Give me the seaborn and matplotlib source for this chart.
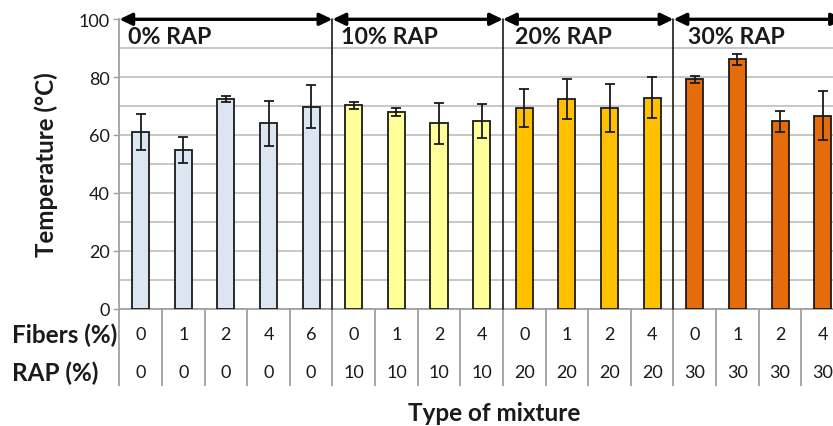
import numpy as np
import pandas as pd
import matplotlib
matplotlib.use("Agg")
import matplotlib.pyplot as plt
from matplotlib.patches import ArrowStyle
from matplotlib.transforms import blended_transform_factory
import seaborn as sns

# Mixture composition
fibers = [0, 1, 2, 4, 6, 0, 1, 2, 4, 0, 1, 2, 4, 0, 1, 2, 4]
rap = [0, 0, 0, 0, 0, 10, 10, 10, 10, 20, 20, 20, 20, 30, 30, 30, 30]

# Measured temperature (°C) and standard deviation
temperature = [61.0, 54.8, 72.5, 64.0, 69.8, 70.2, 67.9, 64.0, 64.8,
               69.4, 72.5, 69.4, 72.8, 79.2, 86.1, 64.7, 66.7]
std_dev = [6.2, 4.6, 1.0, 7.7, 7.5, 1.1, 1.5, 7.0, 5.8,
           6.6, 7.0, 8.3, 7.1, 1.2, 1.8, 3.6, 8.4]

group_labels = ["0% RAP", "10% RAP", "20% RAP", "30% RAP"]
group_colors = ["#DCE6F2", "#FFFF99", "#FFC000", "#E46C0A"]
y_ticks = [0, 20, 40, 60, 80, 100]

df = pd.DataFrame({
    "mix": [f"F{f}-R{r}" for f, r in zip(fibers, rap)],
    "fibers": fibers,
    "rap": rap,
    "temperature": temperature,
    "std": std_dev,
})
df["group"] = df["rap"].map(lambda r: f"{r}% RAP")

sns.set_theme(style="white")
plt.rcParams["font.family"] = ["Lato", "DejaVu Sans"]

fig = plt.figure(figsize=(8.33, 4.27), dpi=100)
cat_w = 42.63 / 833
ax = fig.add_axes([119.3 / 833, 1 - 309.5 / 427, cat_w * 17, (309.5 - 20.3) / 427])

sns.barplot(data=df, x="mix", y="temperature", hue="group",
            order=df["mix"].tolist(), hue_order=group_labels,
            palette=dict(zip(group_labels, group_colors)), saturation=1,
            dodge=False, width=0.4, edgecolor="#1a1a1a", linewidth=1.3,
            legend=False, ax=ax, zorder=3)

xpos = np.arange(len(df))
ax.errorbar(xpos, df["temperature"], yerr=df["std"], fmt="none",
            ecolor="#1a1a1a", elinewidth=1.3, capsize=3.3, capthick=1.3, zorder=4)

# Axes, ticks and grid
ax.set_ylim(0, 100)
ax.set_yticks(y_ticks)
ax.set_yticklabels([str(v) for v in y_ticks], fontsize=13, color="#1a1a1a")
ax.set_yticks(np.arange(0, 101, 10), minor=True)
ax.grid(which="both", axis="y", color="#BEBEBE", lw=1.2, zorder=0)
ax.tick_params(axis="y", which="major", left=True, length=4, width=1,
               color="#A0A0A0", pad=3)
ax.tick_params(axis="y", which="minor", left=False)

# Category boundaries extended downward to form the table
ax.set_xticks(np.arange(-0.5, 17, 1))
ax.set_xticklabels([])
ax.tick_params(axis="x", bottom=True, length=55.5, width=1.3, color="#A0A0A0")
ax.set_xlim(-0.5, 16.5)
ax.set_xlabel("")
ax.set_ylabel("Temperature (°C)", fontsize=17.4, fontweight="bold", color="#1a1a1a")
ax.yaxis.set_label_coords(-0.0845, 0.5)

for side in ["top", "right"]:
    ax.spines[side].set_visible(False)
for side in ["left", "bottom"]:
    ax.spines[side].set_color("#A0A0A0")
    ax.spines[side].set_linewidth(1.3)

# Group separators, arrows and labels
bounds = [-0.5, 4.5, 8.5, 12.5, 16.5]
for b in bounds[1:-1]:
    ax.plot([b, b], [0, 100], color="#1a1a1a", lw=1.2, zorder=5, clip_on=False)

astyle = ArrowStyle("<|-|>", head_length=0.75, head_width=0.36)
for i, lab in enumerate(group_labels):
    ax.annotate("", xy=(bounds[i + 1], 100), xytext=(bounds[i], 100),
                xycoords="data", textcoords="data", annotation_clip=False,
                arrowprops=dict(arrowstyle=astyle, color="black", lw=2.4,
                                shrinkA=0, shrinkB=0, mutation_scale=10),
                zorder=6)

label_offsets = [6.3, 6.0, 9.0, 10.8]
for i, lab in enumerate(group_labels):
    ax.annotate(lab, xy=(bounds[i], 94.2), xytext=(label_offsets[i], 0),
                textcoords="offset points", ha="left", va="center",
                fontsize=16.7, fontweight="bold", color="#1a1a1a", zorder=6)

# Table rows under the axis
trans = blended_transform_factory(ax.transData, ax.transAxes)
for x, f, r in zip(xpos, fibers, rap):
    ax.text(x, -0.088, str(f), transform=trans, ha="center", va="center",
            fontsize=13, color="#1a1a1a", clip_on=False)
    ax.text(x, -0.219, str(r), transform=trans, ha="center", va="center",
            fontsize=13, color="#1a1a1a", clip_on=False)

fig.text(12 / 833, 1 - 335 / 427, "Fibers (%)", ha="left", va="center",
         fontsize=17.5, fontweight="bold", color="#1a1a1a")
fig.text(12 / 833, 1 - 373 / 427, "RAP (%)", ha="left", va="center",
         fontsize=17.5, fontweight="bold", color="#1a1a1a")
fig.text(494 / 833, 1 - 414 / 427, "Type of mixture", ha="center", va="center",
         fontsize=17.5, fontweight="bold", color="#1a1a1a")

fig.savefig("out.png", dpi=100)
